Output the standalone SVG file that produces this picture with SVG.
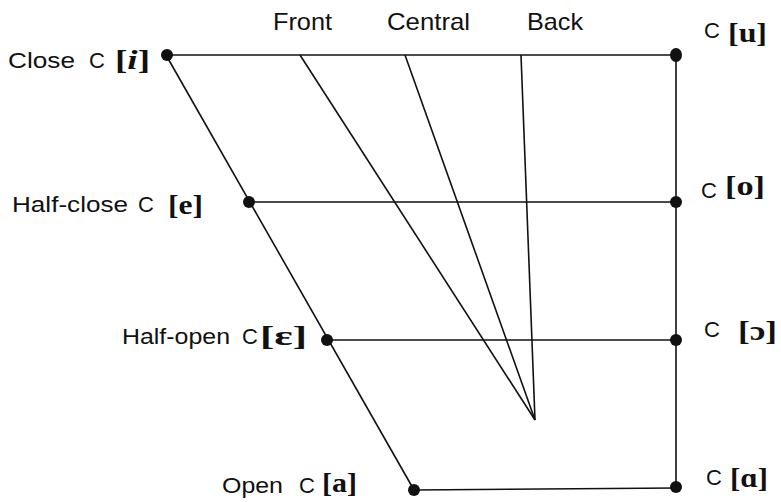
<svg xmlns="http://www.w3.org/2000/svg" width="781" height="502" viewBox="0 0 781 502">
<style>
.t{font-family:"Liberation Sans",Arial,sans-serif;font-size:22px;fill:#111}
.h{font-family:"Liberation Sans",Arial,sans-serif;font-size:24px;fill:#111}
.s{font-family:"Liberation Serif","DejaVu Serif",serif;font-size:27px;font-weight:bold;fill:#111}
.ln{stroke:#111;stroke-width:1.6;fill:none}
.dot{fill:#111}
</style>
<rect width="781" height="502" fill="#fff"/>
<g id="connectors">
<line class="ln" x1="166" y1="55" x2="676" y2="55"/>
<line class="ln" x1="249" y1="202" x2="676" y2="202"/>
<line class="ln" x1="327" y1="340" x2="676" y2="340"/>
<line class="ln" x1="414" y1="490" x2="676" y2="488"/>
<line class="ln" x1="166" y1="55" x2="414" y2="490"/>
<line class="ln" x1="676" y1="55" x2="676" y2="488"/>
<line class="ln" x1="300" y1="55" x2="535" y2="420"/>
<line class="ln" x1="405" y1="55" x2="535" y2="420"/>
<line class="ln" x1="521" y1="55" x2="535" y2="420"/>
</g>
<g id="headers">
<text class="h" x="273" y="30" textLength="59" lengthAdjust="spacingAndGlyphs">Front</text>
<text class="h" x="387" y="30" textLength="83" lengthAdjust="spacingAndGlyphs">Central</text>
<text class="h" x="527" y="30" textLength="56" lengthAdjust="spacingAndGlyphs">Back</text>
</g>
<g id="close-front">
<ellipse class="dot" cx="167" cy="55" rx="6" ry="6"/>
<text class="t" x="8" y="68" textLength="67" lengthAdjust="spacingAndGlyphs">Close</text>
<text class="t" x="89" y="68">C</text>
<text class="s" x="115" y="69" textLength="35" lengthAdjust="spacingAndGlyphs">[<tspan font-style="italic">i</tspan>]</text>
</g>
<g id="half-close-front">
<circle class="dot" cx="249" cy="202" r="6"/>
<text class="t" x="12" y="212" textLength="116" lengthAdjust="spacingAndGlyphs">Half-close</text>
<text class="t" x="138" y="212">C</text>
<text class="s" x="168" y="214" textLength="35" lengthAdjust="spacingAndGlyphs">[e]</text>
</g>
<g id="half-open-front">
<circle class="dot" cx="327" cy="340" r="6"/>
<text class="t" x="122" y="344" textLength="108" lengthAdjust="spacingAndGlyphs">Half-open</text>
<text class="t" x="242" y="344">C</text>
<text class="s" x="260" y="345" textLength="47" lengthAdjust="spacingAndGlyphs">[ɛ]</text>
</g>
<g id="open-front">
<circle class="dot" cx="414" cy="490" r="6"/>
<text class="t" x="222" y="493" textLength="61" lengthAdjust="spacingAndGlyphs">Open</text>
<text class="t" x="299" y="493">C</text>
<text class="s" x="322" y="492" textLength="35" lengthAdjust="spacingAndGlyphs">[a]</text>
</g>
<g id="close-back">
<ellipse class="dot" cx="676" cy="55" rx="6" ry="7"/>
<text class="t" x="704" y="38">C</text>
<text class="s" x="728" y="42" textLength="39" lengthAdjust="spacingAndGlyphs">[u]</text>
</g>
<g id="half-close-back">
<circle class="dot" cx="676" cy="202" r="6"/>
<text class="t" x="701" y="198">C</text>
<text class="s" x="725" y="195" textLength="40" lengthAdjust="spacingAndGlyphs">[o]</text>
</g>
<g id="half-open-back">
<circle class="dot" cx="676" cy="340" r="6"/>
<text class="t" x="704" y="337">C</text>
<text class="s" x="738" y="340" textLength="39" lengthAdjust="spacingAndGlyphs">[ɔ]</text>
</g>
<g id="open-back">
<circle class="dot" cx="676" cy="487" r="6"/>
<text class="t" x="706" y="485">C</text>
<text class="s" x="730" y="487" textLength="38" lengthAdjust="spacingAndGlyphs">[ɑ]</text>
</g>
</svg>
